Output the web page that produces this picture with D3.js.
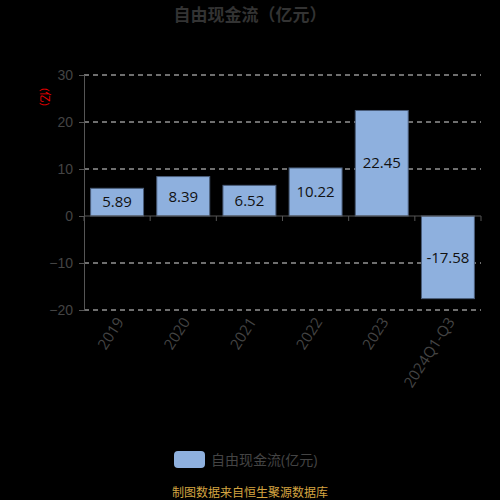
<!DOCTYPE html>
<html>
<head>
<meta charset="utf-8">
<script src="https://cdn.jsdelivr.net/npm/d3@7"></script>
<style>
  body { margin: 0; background: #000; }
  svg { display: block; font-family: "Open Sans", "Noto Sans CJK SC", sans-serif; }
</style>
</head>
<body>
<div id="chart"></div>
<script>
const categories = ['2019', '2020', '2021', '2022', '2023', '2024Q1-Q3'];
const values = [5.89, 8.39, 6.52, 10.22, 22.45, -17.58];
const yTicks = [-20, -10, 0, 10, 20, 30];

const width = 500;
const height = 500;
const margin = {top: 75, right: 19, bottom: 190, left: 84};

const svg = d3.select('#chart')
  .append('svg')
  .attr('width', width)
  .attr('height', height);

svg.append('rect').attr('width', width).attr('height', height).attr('fill', '#000');

const x = d3.scaleBand()
  .domain(categories)
  .range([margin.left, width - margin.right])
  .paddingInner(0.2)
  .paddingOuter(0.1);

const y = d3.scaleLinear()
  .domain([-20, 30])
  .range([height - margin.bottom, margin.top]);

// title
svg.append('text')
  .attr('x', width / 2)
  .attr('y', 21)
  .attr('text-anchor', 'middle')
  .attr('font-size', 17)
  .attr('font-weight', 'bold')
  .attr('fill', '#333')
  .text('自由现金流（亿元）');

// grid lines
svg.append('g')
  .selectAll('line')
  .data(yTicks.filter(d => d !== 0))
  .join('line')
    .attr('x1', margin.left)
    .attr('x2', width - margin.right)
    .attr('y1', d => y(d))
    .attr('y2', d => y(d))
    .attr('stroke', '#ddd')
    .attr('stroke-dasharray', '5,4');

// y axis
const yAxis = svg.append('g')
  .attr('transform', `translate(${margin.left},0)`)
  .call(d3.axisLeft(y).tickValues(yTicks).tickSize(5).tickPadding(6));
yAxis.select('.domain').attr('stroke', '#555');
yAxis.selectAll('.tick line').attr('stroke', '#555');
yAxis.selectAll('.tick text').attr('fill', '#444').attr('font-size', 14);

// unit label
svg.append('text')
  .attr('transform', `translate(41,97) rotate(90)`)
  .attr('text-anchor', 'middle')
  .attr('font-size', 11)
  .attr('fill', '#e00')
  .text('(亿)');

// bars
svg.append('g')
  .selectAll('rect')
  .data(values)
  .join('rect')
    .attr('x', (d, i) => x(categories[i]))
    .attr('y', d => y(Math.max(0, d)))
    .attr('width', x.bandwidth())
    .attr('height', d => Math.abs(y(d) - y(0)))
    .attr('fill', '#8eb0de')
    .attr('stroke', '#4a5d7a')
    .attr('stroke-width', 1);

// bar labels
svg.append('g')
  .selectAll('text')
  .data(values)
  .join('text')
    .attr('x', (d, i) => x(categories[i]) + x.bandwidth() / 2)
    .attr('y', d => (y(d) + y(0)) / 2)
    .attr('dy', '0.35em')
    .attr('text-anchor', 'middle')
    .attr('font-size', 15)
    .attr('fill', '#111')
    .text(d => d.toFixed(2));

// x axis at zero
const xAxis = svg.append('g')
  .attr('transform', `translate(0,${y(0)})`);
xAxis.append('line')
  .attr('x1', margin.left)
  .attr('x2', width - margin.right)
  .attr('stroke', '#555');
xAxis.selectAll('.tk')
  .data(d3.range(categories.length + 1))
  .join('line')
    .attr('class', 'tk')
    .attr('x1', i => margin.left + i * x.step())
    .attr('x2', i => margin.left + i * x.step())
    .attr('y1', 0)
    .attr('y2', 5)
    .attr('stroke', '#555');

// category labels
svg.append('g')
  .selectAll('text')
  .data(categories)
  .join('text')
    .attr('transform', d => `translate(${x(d) + x.bandwidth() / 2 + 3},${y(-20) + 9}) rotate(-57)`)
    .attr('text-anchor', 'end')
    .attr('dy', '0.35em')
    .attr('font-size', 15)
    .attr('fill', '#444')
    .text(d => d);

// legend
svg.append('rect')
  .attr('x', 174).attr('y', 451)
  .attr('width', 31).attr('height', 17)
  .attr('rx', 4)
  .attr('fill', '#8eb0de');
svg.append('text')
  .attr('x', 211).attr('y', 460)
  .attr('dy', '0.35em')
  .attr('font-size', 14)
  .attr('fill', '#444')
  .text('自由现金流(亿元)');

// source
svg.append('text')
  .attr('x', 250).attr('y', 493)
  .attr('dy', '0.35em')
  .attr('text-anchor', 'middle')
  .attr('font-size', 12)
  .attr('fill', '#d4a440')
  .text('制图数据来自恒生聚源数据库');
</script>
</body>
</html>
